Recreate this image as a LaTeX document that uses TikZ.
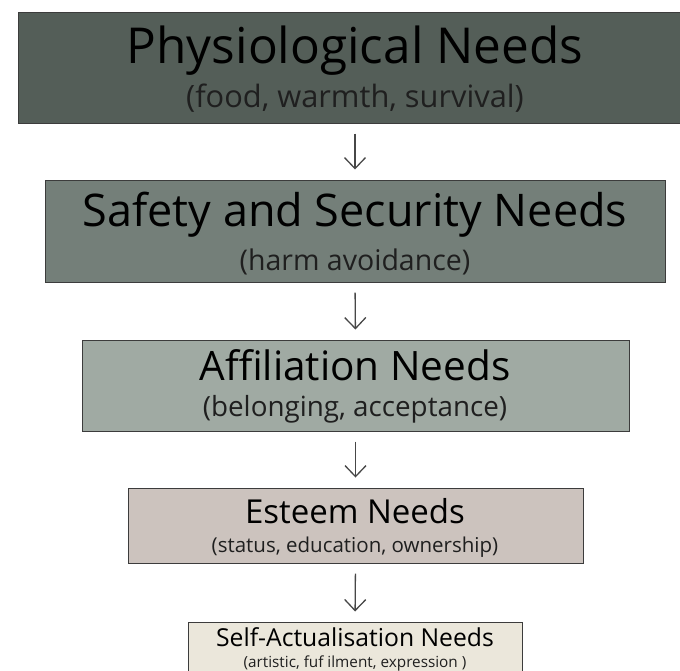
\documentclass[tikz,border=0pt]{standalone}
\usepackage{fontspec}
\setmainfont{Open Sans}
\usepackage{tikz}
\usetikzlibrary{arrows.meta, calc}
\usepackage{xcolor}
\definecolor{physio}{HTML}{545E58}
\definecolor{safety}{HTML}{747F79}
\definecolor{affil}{HTML}{A0AAA3}
\definecolor{esteem}{HTML}{CCC3BE}
\definecolor{selfact}{HTML}{EBE7DB}
\definecolor{edge}{HTML}{3C3C3C}
\tikzset{
    needbox/.style={draw=edge, line width=1pt, inner sep=0pt},
    needtitle/.style={anchor=base, inner sep=0pt, text=black},
    needsub/.style={anchor=base, inner sep=0pt, text=black!88},
    nextneed/.style={-{Straight Barb[length=11pt, width=21pt, line width=1.3pt]}, draw=black!72, line width=1.3pt, shorten <=10pt, shorten >=10pt}
}

\begin{document}
\begin{tikzpicture}[x=1pt, y=-1pt]
    \useasboundingbox (0,0) rectangle (680,670);
    \clip (0,0) rectangle (680,670);
    % boxes
    \node[needbox, fill=physio, minimum width=674pt, minimum height=111pt] (b1) at (355,67.5) {};
    \node[needbox, fill=safety, minimum width=620pt, minimum height=102pt] (b2) at (355,231) {};
    \node[needbox, fill=affil, minimum width=547pt, minimum height=91pt] (b3) at (355.5,385.5) {};
    \node[needbox, fill=esteem, minimum width=455pt, minimum height=75pt] (b4) at (355.5,525.5) {};
    \node[needbox, fill=selfact, minimum width=334pt, minimum height=60pt] (b5) at (355,652) {};
    % titles
    \node[needtitle, font=\fontsize{49.5}{54}\selectfont] (t1) at (355,63) {Physiological Needs};
    \node[needsub, font=\fontsize{30.8}{34}\selectfont] (s1) at (355,107) {(food, warmth, survival)};
    \node[needtitle, font=\fontsize{45}{50}\selectfont] (t2) at (355,226) {Safety and Security Needs};
    \node[needsub, font=\fontsize{28.5}{32}\selectfont] (s2) at (355,270) {(harm avoidance)};
    \node[needtitle, font=\fontsize{40.5}{44}\selectfont] (t3) at (355,380) {Affiliation Needs};
    \node[needsub, font=\fontsize{27.8}{31}\selectfont] (s3) at (355,416) {(belonging, acceptance)};
    \node[needtitle, font=\fontsize{33}{36}\selectfont] (t4) at (355,523) {Esteem Needs};
    \node[needsub, font=\fontsize{20.5}{24}\selectfont] (s4) at (355,552) {(status, education, ownership)};
    \node[needtitle, font=\fontsize{24.7}{28}\selectfont] (t5) at (355,646) {Self-Actualisation Needs};
    \node[needsub, font=\fontsize{15.3}{18}\selectfont] (s5) at (355,667) {(artistic, fuf ilment, expression )};
    % arrows
    \draw[nextneed] (b1.south) -- (b2.north);
    \draw[nextneed] (b2.south) -- (b3.north);
    \draw[nextneed] (b3.south) -- (b4.north);
    \draw[nextneed] (b4.south) -- (b5.north);
\end{tikzpicture}
\end{document}
